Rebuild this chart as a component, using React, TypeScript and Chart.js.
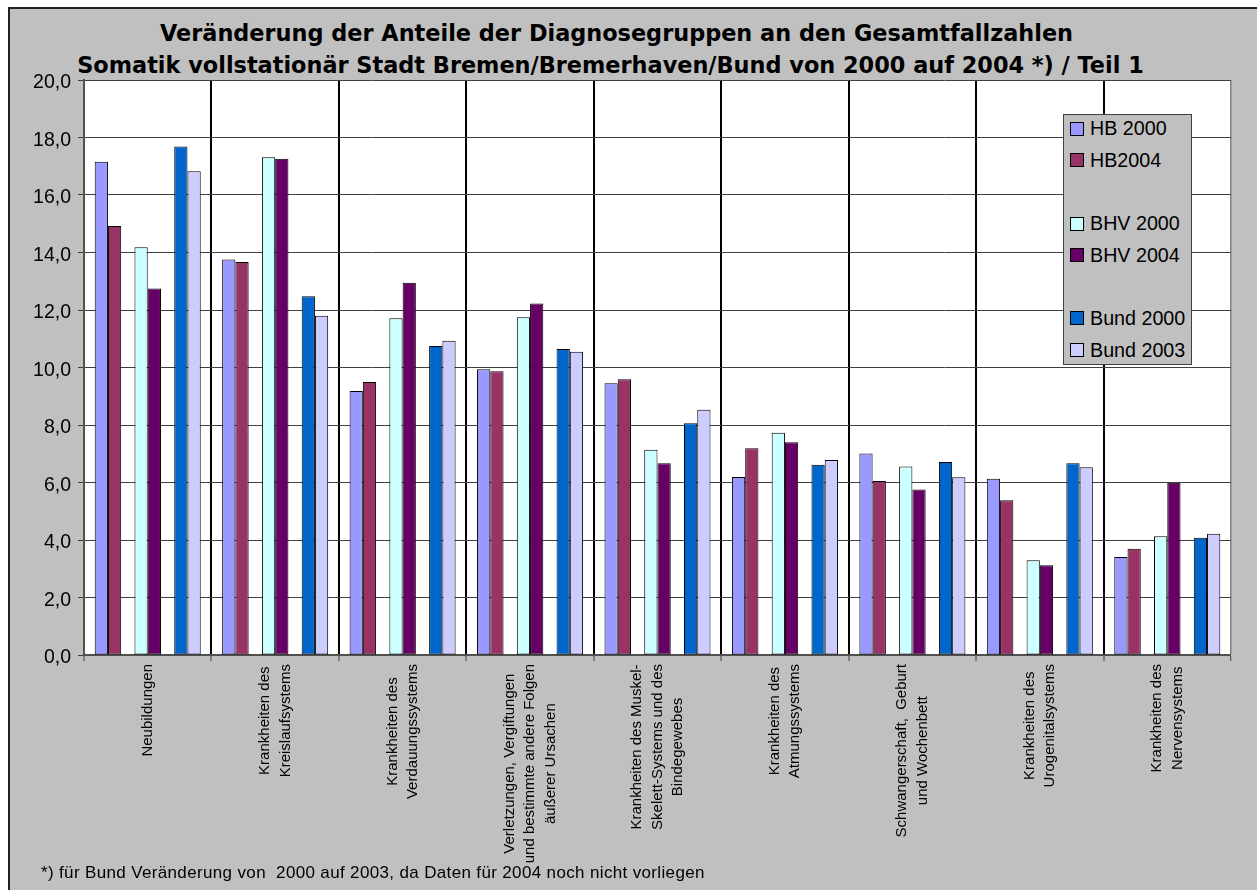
import React, { useEffect, useRef } from "react";
import { Chart, registerables } from "chart.js";

Chart.register(...registerables);

const FONT = "'Liberation Sans', Arial, Helvetica, sans-serif";
const TITLE_FONT = "'DejaVu Sans', 'Liberation Sans', Arial, sans-serif";

// ---- data ----
const categories: string[][] = [
  ["Neubildungen"],
  ["Krankheiten des", "Kreislaufsystems"],
  ["Krankheiten des", "Verdauungssystems"],
  ["Verletzungen, Vergiftungen", "und bestimmte andere Folgen", "äußerer Ursachen"],
  ["Krankheiten des Muskel-", "Skelett-Systems und des", "Bindegewebes"],
  ["Krankheiten des", "Atmungssystems"],
  ["Schwangerschaft,  Geburt", "und Wochenbett"],
  ["Krankheiten des", "Urogenitalsystems"],
  ["Krankheiten des", "Nervensystems"],
];

const hb2000 = [17.16, 13.76, 9.18, 9.94, 9.45, 6.19, 7.01, 6.13, 3.41];
const hb2004 = [14.92, 13.67, 9.5, 9.87, 9.59, 7.19, 6.05, 5.38, 3.7];
const bhv2000 = [14.18, 17.31, 11.71, 11.75, 7.14, 7.73, 6.56, 3.3, 4.13];
const bhv2004 = [12.75, 17.26, 12.95, 12.23, 6.67, 7.4, 5.76, 3.12, 5.99];
const bund2000 = [17.69, 12.48, 10.75, 10.64, 8.06, 6.62, 6.71, 6.67, 4.08];
const bund2003 = [16.83, 11.8, 10.93, 10.55, 8.53, 6.78, 6.18, 6.53, 4.22];
const blank: (number | null)[] = [null, null, null, null, null, null, null, null, null];

const seriesLabels = ["HB 2000", "HB2004", "", "BHV 2000", "BHV 2004", "", "Bund 2000", "Bund 2003"];
const seriesColors: (string | null)[] = ["#9999FF", "#993366", null, "#CCFFFF", "#660066", null, "#0066CC", "#CCCCFF"];
const seriesData = [hb2000, hb2004, blank, bhv2000, bhv2004, blank, bund2000, bund2003];

const yMin = 0;
const yMax = 20;
const yStep = 2;

const titleLines = [
  "Veränderung der Anteile der Diagnosegruppen an den Gesamtfallzahlen",
  "Somatik vollstationär Stadt Bremen/Bremerhaven/Bund von 2000 auf 2004 *) / Teil 1",
];
const footnote = "*) für Bund Veränderung von  2000 auf 2003, da Daten für 2004 noch nicht vorliegen";

// ---- plugins ----
const plotBg = {
  id: "plotBg",
  beforeDraw(chart: any) {
    const { ctx, chartArea: a } = chart;
    ctx.save();
    ctx.fillStyle = "#FFFFFF";
    ctx.fillRect(a.left, a.top, a.right - a.left, a.bottom - a.top);
    ctx.restore();
  },
};

const xLabels = {
  id: "xLabels",
  afterDraw(chart: any) {
    const ctx = chart.ctx;
    const xs = chart.scales.x;
    const top = chart.chartArea.bottom + 9;
    const lh = 20.5;
    ctx.save();
    ctx.font = `15px ${FONT}`;
    ctx.fillStyle = "#000";
    ctx.textAlign = "center";
    ctx.textBaseline = "middle";
    categories.forEach((lines, i) => {
      const x = xs.getPixelForValue(i);
      const maxW = Math.max(...lines.map((l) => ctx.measureText(l).width));
      ctx.save();
      ctx.translate(x, top);
      ctx.rotate(-Math.PI / 2);
      lines.forEach((l, k) => {
        ctx.fillText(l, -maxW / 2, (k - (lines.length - 1) / 2) * lh);
      });
      ctx.restore();
    });
    ctx.restore();
  },
};

function ChartCanvas() {
  const ref = useRef<HTMLCanvasElement | null>(null);
  useEffect(() => {
    if (!ref.current) return;
    const chart = new Chart(ref.current, {
      type: "bar",
      data: {
        labels: categories.map((c) => c.join(" ")),
        datasets: seriesData.map((d, i) => ({
          label: seriesLabels[i],
          data: d,
          backgroundColor: seriesColors[i] ?? "rgba(0,0,0,0)",
          borderColor: "#000000",
          borderWidth: 1,
          borderSkipped: false,
          categoryPercentage: 0.832,
          barPercentage: 1,
        })),
      },
      options: {
        responsive: false,
        animation: false,
        devicePixelRatio: 1,
        layout: { padding: { top: 80, right: 26, left: 0, bottom: 0 } },
        plugins: {
          legend: { display: false },
          title: { display: false },
          tooltip: { enabled: false },
        },
        scales: {
          x: {
            grid: {
              offset: true,
              color: (c: any) => (c.index === undefined || c.index === 0 ? "#808080" : "#000000"),
              lineWidth: (c: any) => (c.index === 0 ? 0 : c.index === undefined ? 1.5 : 2),
              tickLength: 6,
              tickColor: "#404040",
              tickWidth: 1,
            },
            border: { display: true, color: "#505050", width: 2 },
            ticks: { display: false },
            afterFit: (s: any) => {
              s.height = 235;
            },
          },
          y: {
            min: yMin,
            max: yMax,
            ticks: {
              stepSize: yStep,
              color: "#000",
              font: { family: FONT, size: 19.5 },
              padding: 7,
              labelOffset: 3,
              callback: (v: any) => Number(v).toFixed(1).replace(".", ","),
            },
            grid: { color: "#404040", lineWidth: 1, tickLength: 6, tickColor: "#404040" },
            border: { display: true, color: "#505050", width: 2 },
            afterFit: (s: any) => {
              s.width = 84;
            },
          },
        },
      },
      plugins: [plotBg, xLabels],
    } as any);
    return () => chart.destroy();
  }, []);
  return (
    <canvas
      ref={ref}
      width={1257}
      height={890}
      style={{ position: "absolute", left: 0, top: 0, width: 1257, height: 890 }}
    />
  );
}

function Legend() {
  const top = 114;
  const left = 1063;
  return (
    <div
      style={{
        position: "absolute",
        left,
        top,
        width: 129,
        height: 251,
        boxSizing: "border-box",
        background: "#C0C0C0",
        border: "1px solid #404040",
      }}
    >
      {seriesLabels.map((lab, k) => {
        const cy = 14.3 + 31.6 * k;
        if (!lab) return null;
        return (
          <React.Fragment key={k}>
            <div
              style={{
                position: "absolute",
                left: 6,
                top: cy - 7.5,
                width: 14,
                height: 14,
                boxSizing: "border-box",
                background: seriesColors[k] ?? "transparent",
                border: "1px solid #000",
              }}
            />
            <div
              style={{
                position: "absolute",
                left: 26,
                top: cy - 13,
                height: 24,
                lineHeight: "24px",
                fontFamily: FONT,
                fontSize: 19.7,
                color: "#000",
                whiteSpace: "nowrap",
              }}
            >
              {lab}
            </div>
          </React.Fragment>
        );
      })}
    </div>
  );
}

export default function App() {
  const titleCenters = [616.5, 610.5];
  return (
    <div
      style={{
        position: "absolute",
        left: 0,
        top: 0,
        width: 1257,
        height: 890,
        overflow: "hidden",
      }}
    >
      <div
        style={{
          position: "absolute",
          left: 8,
          top: 7,
          width: 1400,
          height: 1000,
          background: "#C0C0C0",
          borderLeft: "2px solid #222",
          borderTop: "2px solid #222",
        }}
      />
      {titleLines.map((t, i) => (
        <div
          key={i}
          style={{
            position: "absolute",
            left: titleCenters[i] - 700,
            width: 1400,
            top: 16.6 + 32.6 * i,
            lineHeight: "32.6px",
            textAlign: "center",
            fontFamily: TITLE_FONT,
            fontWeight: "bold",
            fontSize: 22.4,
            color: "#000",
            whiteSpace: "nowrap",
          }}
        >
          {t}
        </div>
      ))}
      <ChartCanvas />
      <Legend />
      <div
        style={{
          position: "absolute",
          left: 41,
          top: 863,
          lineHeight: "20px",
          fontFamily: FONT,
          fontSize: 17,
          letterSpacing: "0.35px",
          color: "#000",
          whiteSpace: "pre",
        }}
      >
        {footnote}
      </div>
    </div>
  );
}
